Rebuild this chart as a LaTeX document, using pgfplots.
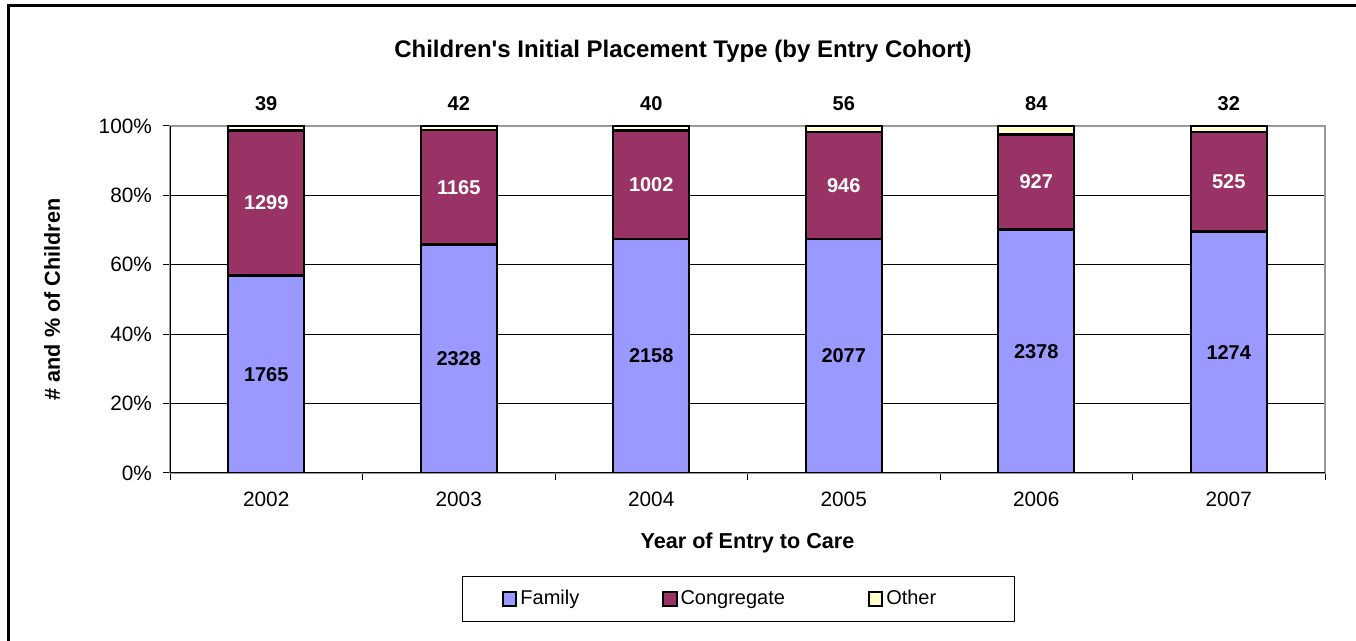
\documentclass[border=0pt]{standalone}
\usepackage{fontspec}
\setmainfont{Liberation Sans}
\usepackage{pgfplots}
\usepackage{pgfplotstable}
\pgfplotsset{compat=1.18}
\definecolor{famc}{HTML}{9999FF}
\definecolor{conc}{HTML}{993366}
\definecolor{othc}{HTML}{FFFFCC}
\pgfplotstableread{
X F C O
0 1765 1299 39
1 2328 1165 42
2 2158 1002 40
3 2077 946 56
4 2378 927 84
5 1274 525 32
}\data
\begin{document}
\begin{tikzpicture}
\useasboundingbox (0pt,0pt) rectangle (678pt,320.5pt);
\begin{axis}[
  at={(85pt,84pt)}, anchor=south west, scale only axis,
  width=577.5pt, height=173.5pt,
  xmin=-0.5, xmax=5.5, ymin=0, ymax=100,
  ybar stacked, bar width=0.395,
  xtick={-0.5,0.5,...,5.5}, xticklabels={},
  extra x ticks={0,1,2,3,4,5},
  extra x tick labels={2002,2003,2004,2005,2006,2007},
  extra x tick style={major tick length=0pt},
  ytick={0,20,40,60,80,100},
  yticklabels={0\%,20\%,40\%,60\%,80\%,100\%},
  tick label style={font=\fontsize{10.4}{12}\selectfont},
  tick align=outside, tick pos=left, major tick length=3.5pt,
  tick style={black, line width=0.5pt},
  ymajorgrids, major grid style={black, line width=0.5pt},
  axis line style={gray!80, line width=0.7pt},
  xticklabel style={yshift=-6pt},
  yticklabel style={xshift=-2pt},
  xlabel={Year of Entry to Care},
  xlabel style={at={(axis description cs:0.5,-0.202)}, anchor=center, font=\fontsize{10.8}{13}\selectfont\bfseries},
  ylabel={\# and \% of Children},
  ylabel style={at={(axis description cs:-0.102,0.5)}, anchor=center, rotate=0, font=\fontsize{10.8}{13}\selectfont\bfseries},
  legend columns=3,
  legend image code/.code={\draw[#1, draw=black, line width=1pt] (0pt,-3.3pt) rectangle (6.6pt,3.3pt);},
  legend style={at={(axis description cs:0.492,-0.363)}, anchor=center,
    draw=black, line width=0.5pt, inner xsep=20pt, inner ysep=5pt,
    /tikz/every even column/.append style={column sep=40pt},
    nodes={inner xsep=1.5pt}},
]
\addplot[fill=famc, draw=black, line width=1.2pt]
  table[x=X, y expr={100*\thisrow{F}/(\thisrow{F}+\thisrow{C}+\thisrow{O})}] {\data};
\addplot[fill=conc, draw=black, line width=1.2pt]
  table[x=X, y expr={100*\thisrow{C}/(\thisrow{F}+\thisrow{C}+\thisrow{O})}] {\data};
\addplot[fill=othc, draw=black, line width=1.2pt]
  table[x=X, y expr={100*\thisrow{O}/(\thisrow{F}+\thisrow{C}+\thisrow{O})}] {\data};
\legend{Family,Congregate,Other\kern17.5pt\relax}
\draw[black, line width=0.7pt] (rel axis cs:0,0) -- (rel axis cs:0,1);
\draw[black, line width=0.7pt] (rel axis cs:0,0) -- (rel axis cs:1,0);
\end{axis}
\begin{axis}[
  at={(85pt,84pt)}, anchor=south west, scale only axis,
  width=577.5pt, height=173.5pt,
  xmin=-0.5, xmax=5.5, ymin=0, ymax=100,
  hide axis, clip=false,
  nodes near coords, point meta=explicit symbolic,
  every node near coord/.append style={anchor=center, font=\bfseries},
]
\addplot[draw=none, mark=none]
  table[x=X, y expr={50*\thisrow{F}/(\thisrow{F}+\thisrow{C}+\thisrow{O})}, meta=F] {\data};
\addplot[draw=none, mark=none, every node near coord/.append style={text=white}]
  table[x=X, y expr={100*(\thisrow{F}+0.5*\thisrow{C})/(\thisrow{F}+\thisrow{C}+\thisrow{O})}, meta=C] {\data};
\addplot[draw=none, mark=none, every node near coord/.append style={yshift=11pt}]
  table[x=X, y expr={100}, meta=O] {\data};
\end{axis}
\node[font=\fontsize{12}{14}\selectfont\bfseries] at (341.5pt,295pt) {Children\textquotesingle s Initial Placement Type (by Entry Cohort)};
\draw[black, line width=1.5pt] (4pt,-10pt) -- (4pt,317.5pt) -- (700pt,317.5pt);
\end{tikzpicture}
\end{document}
